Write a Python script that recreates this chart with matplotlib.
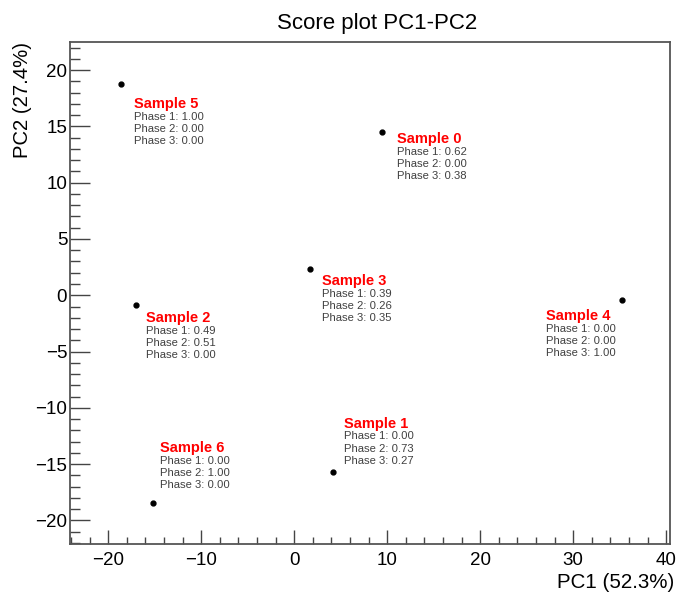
import matplotlib
matplotlib.use("Agg")
import matplotlib.pyplot as plt
from matplotlib.ticker import MultipleLocator

plt.rcParams['font.family'] = ['Liberation Sans', 'DejaVu Sans']

# ---- data ----
samples = ["Sample 0", "Sample 1", "Sample 2", "Sample 3", "Sample 4", "Sample 5", "Sample 6"]
pc1 = [9.46, 4.19, -17.0, 1.72, 35.2, -18.6, -15.16]
pc2 = [14.5, -15.7, -0.89, 2.31, -0.44, 18.76, -18.5]
phase1 = [0.62, 0.00, 0.49, 0.39, 0.00, 1.00, 0.00]
phase2 = [0.00, 0.73, 0.51, 0.26, 0.00, 0.00, 1.00]
phase3 = [0.38, 0.27, 0.00, 0.35, 1.00, 0.00, 0.00]
title = "Score plot PC1-PC2"
xlabel = "PC1 (52.3%)"
ylabel = "PC2 (27.4%)"

# label offsets from the point, in pixels (dx right, dy down) - layout only
label_off_px = [(15, 0), (11, -55), (10, 6), (12, 5), (-76, 9), (13, 13), (7, -62)]

W, H = 677, 594
fig = plt.figure(figsize=(W / 100, H / 100), dpi=100)
ax = fig.add_axes([70 / W, (H - 544) / H, 600 / W, 502 / H])

ax.plot(pc1, pc2, linestyle='none', marker='o', markersize=3.5, color='black')

px2pt = 72 / 100
for i, name in enumerate(samples):
    dx, dy = label_off_px[i]
    ax.annotate(name, (pc1[i], pc2[i]), xytext=(dx * px2pt, -dy * px2pt),
                textcoords='offset points', ha='left', va='top',
                color='#ff0000', fontsize=10.5, fontweight='bold')
    lines = [f"Phase 1: {phase1[i]:.2f}", f"Phase 2: {phase2[i]:.2f}", f"Phase 3: {phase3[i]:.2f}"]
    for j, ln in enumerate(lines):
        ax.annotate(ln, (pc1[i], pc2[i]),
                    xytext=(dx * px2pt, -(dy + 14.5 + 12.2 * j) * px2pt),
                    textcoords='offset points', ha='left', va='top',
                    color='#404040', fontsize=8.1)

ax.set_xlim(-24.1, 40.4)
ax.set_ylim(-22.1, 22.5)
ax.xaxis.set_major_locator(MultipleLocator(10))
ax.xaxis.set_minor_locator(MultipleLocator(2))
ax.yaxis.set_major_locator(MultipleLocator(5))
ax.yaxis.set_minor_locator(MultipleLocator(1))

ax.tick_params(axis='x', which='major', direction='in', length=10, width=1.0,
               color='#444444', labelsize=13.5, pad=6, top=False)
ax.tick_params(axis='x', which='minor', direction='in', length=5, width=1.0,
               color='#444444', top=False)
ax.tick_params(axis='y', which='major', direction='in', length=14.4, width=1.0,
               color='#444444', labelsize=13.5, pad=2, right=False)
ax.tick_params(axis='y', which='minor', direction='in', length=7.2, width=1.0,
               color='#444444', right=False)
for s in ax.spines.values():
    s.set_color('#555555')
    s.set_linewidth(1.3)

fig.text(377 / W, (H - 13) / H, title, ha='center', va='top', fontsize=16)
fig.text(674 / W, 6 / H, xlabel, ha='right', va='baseline', fontsize=14.8)
fig.text(23 / W, (H - 42) / H, ylabel, ha='center', va='top', rotation=90, fontsize=14.6)

fig.savefig("out.png", dpi=100)
